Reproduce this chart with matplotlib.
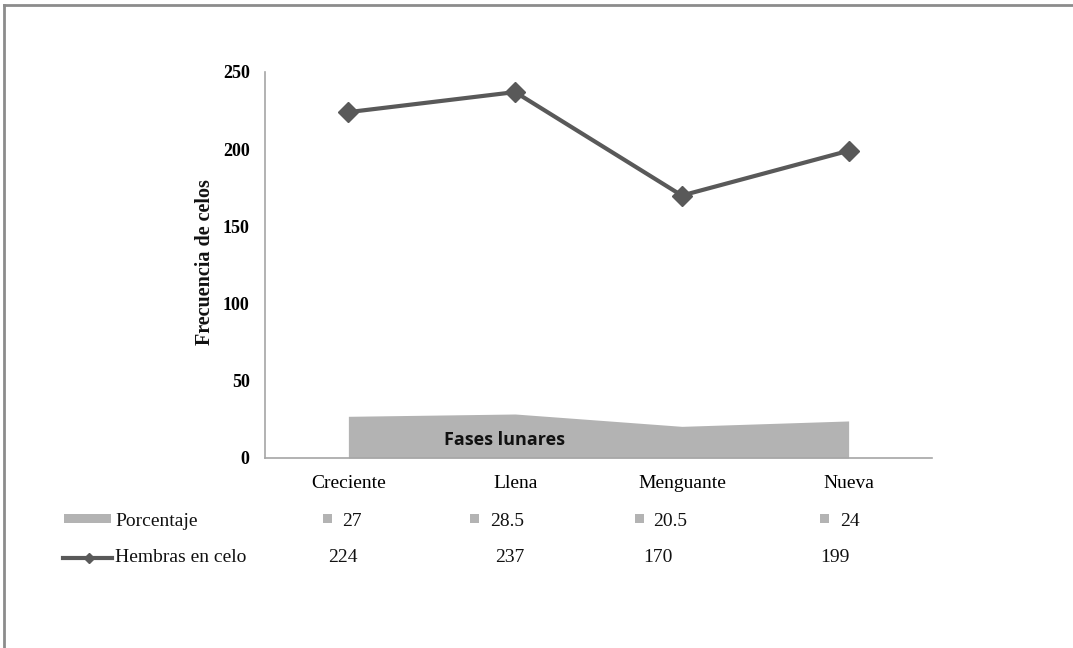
import matplotlib
matplotlib.use("Agg")
import matplotlib.pyplot as plt
from matplotlib.lines import Line2D
from matplotlib.patches import Rectangle

categories = ["Creciente", "Llena", "Menguante", "Nueva"]
porcentaje = [27, 28.5, 20.5, 24]
porcentaje_labels = ["27", "28.5", "20.5", "24"]
hembras = [224, 237, 170, 199]
yticks = [0, 50, 100, 150, 200, 250]

# layout (pixel columns of the data table, as in the reference)
pct_square_px = [323, 470, 635, 820]
pct_text_px = [342, 490, 653, 840]
hem_text_px = [328, 495, 643, 820]

W, H = 1073, 648
fig = plt.figure(figsize=(W / 100, H / 100), dpi=100)
fig.patch.set_facecolor("white")

def fx(px):
    return px / W

def fy(py):
    return 1 - py / H

serif = "Liberation Serif"
GRAY = "#b3b3b3"
DARK = "#595959"

ax = fig.add_axes([fx(265), fy(458), fx(932) - fx(265), fy(72) - fy(458)])
x = list(range(len(categories)))

ax.fill_between(x, 0, porcentaje, color=GRAY, lw=0, zorder=1)
ax.plot(x, hembras, color=DARK, lw=3.0, marker="D", markersize=10,
        markeredgecolor=DARK, zorder=3)

ax.set_xlim(-0.5, 3.5)
ax.set_ylim(0, 250)
ax.set_yticks(yticks)
ax.set_yticklabels([str(t) for t in yticks], fontfamily=serif,
                   fontweight="bold", fontsize=13)
ax.set_xticks(x)
ax.set_xticklabels(categories, fontfamily=serif, fontsize=14)
ax.tick_params(axis="both", length=0)
ax.tick_params(axis="y", pad=11)
ax.tick_params(axis="x", pad=12)
for s in ["top", "right"]:
    ax.spines[s].set_visible(False)
for s in ["left", "bottom"]:
    ax.spines[s].set_color("#a6a6a6")
    ax.spines[s].set_linewidth(1.2)

fig.text(fx(205), fy(262), "Frecuencia de celos", fontfamily=serif,
         fontweight="bold", fontsize=14.5, rotation=90, ha="center", va="center",
         color="#111111")

ax.text(0.934, 11.7, "Fases lunares", fontfamily="Open Sans", fontweight="bold",
        fontsize=13, ha="center", va="center", color="#111111", zorder=4)

# data table rows
row1_base = fy(526)
row2_base = fy(562)
for sq, tx, lab in zip(pct_square_px, pct_text_px, porcentaje_labels):
    fig.add_artist(Rectangle((fx(sq), fy(523)), fx(9), fy(514) - fy(523),
                             transform=fig.transFigure, color=GRAY, lw=0))
    fig.text(fx(tx), row1_base, lab, fontfamily=serif, fontsize=14,
             ha="left", va="baseline", color="#111111")
for tx, h in zip(hem_text_px, hembras):
    fig.text(fx(tx), row2_base, str(h), fontfamily=serif, fontsize=14,
             ha="left", va="baseline", color="#111111")

# legend keys
fig.add_artist(Rectangle((fx(64), fy(523)), fx(111) - fx(64), fy(514) - fy(523),
                         transform=fig.transFigure, color=GRAY, lw=0))
fig.text(fx(115), row1_base, "Porcentaje", fontfamily=serif, fontsize=14,
         ha="left", va="baseline", color="#111111")
fig.add_artist(Line2D([fx(63), fx(112)], [fy(558), fy(558)], transform=fig.transFigure,
                      color=DARK, lw=3))
fig.add_artist(Line2D([fx(89)], [fy(558)], transform=fig.transFigure, marker="D",
                      markersize=5, color=DARK))
fig.text(fx(115), row2_base, "Hembras en celo", fontfamily=serif, fontsize=14,
         ha="left", va="baseline", color="#111111")

# image frame
fig.add_artist(Line2D([fx(4), fx(4)], [fy(5), 0], transform=fig.transFigure,
                      color="#8c8c8c", lw=2))
fig.add_artist(Line2D([fx(4), 1], [fy(5), fy(5)], transform=fig.transFigure,
                      color="#8c8c8c", lw=2))

fig.savefig("out.png", dpi=100, facecolor="white")
